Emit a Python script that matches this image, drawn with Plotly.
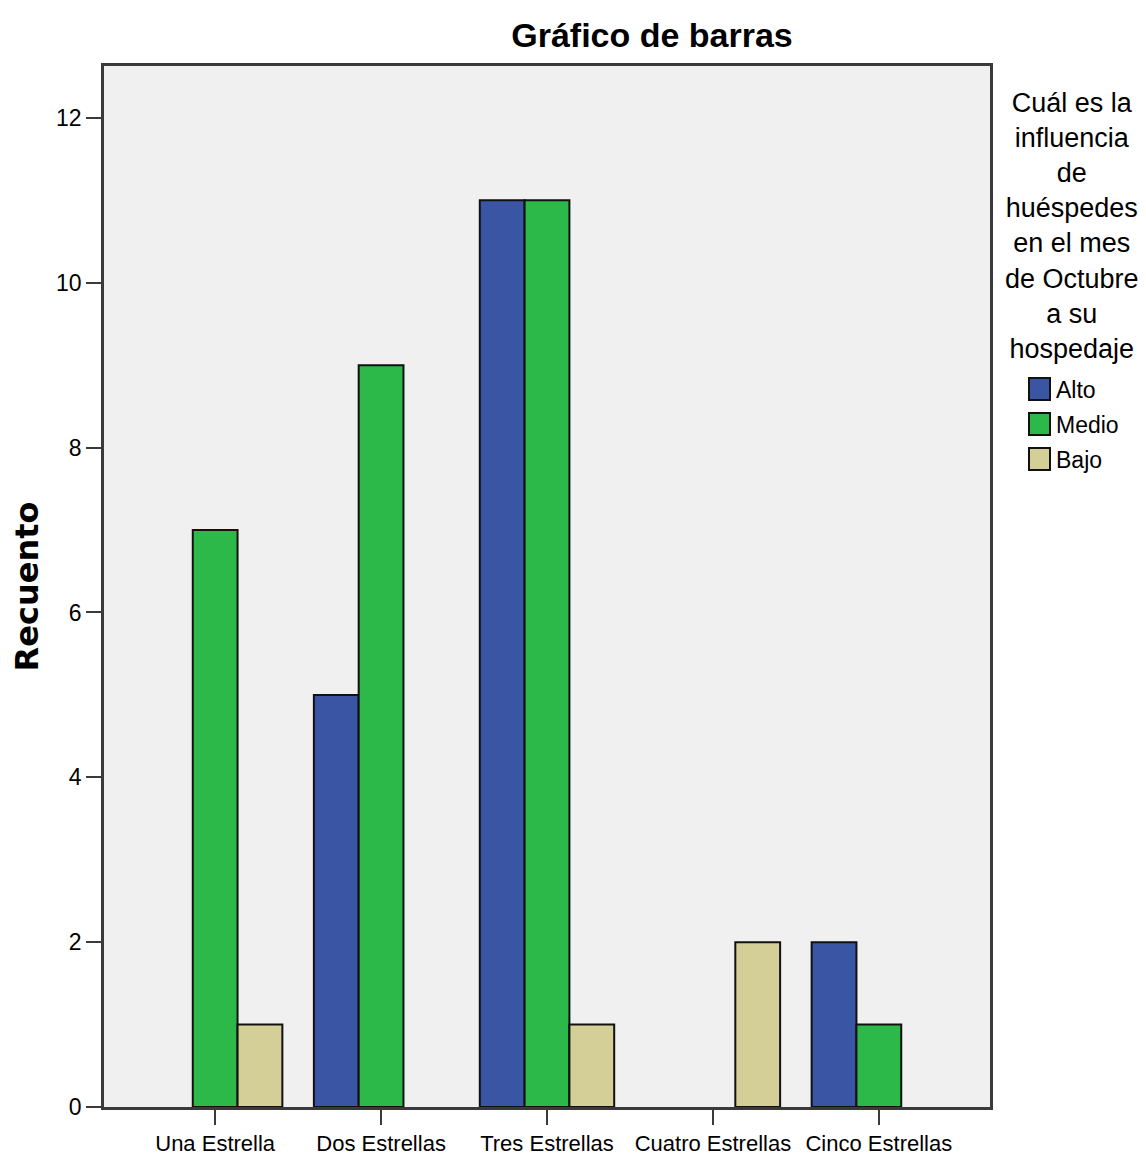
import plotly.graph_objects as go

categories = ["Una Estrella", "Dos Estrellas", "Tres Estrellas", "Cuatro Estrellas", "Cinco Estrellas"]
series_names = ["Alto", "Medio", "Bajo"]
alto = [None, 5, 11, None, 2]
medio = [7, 9, 11, None, 1]
bajo = [1, None, 1, 2, None]
y_ticks = [0, 2, 4, 6, 8, 10, 12]
legend_title = "Cuál es la<br>influencia<br>de<br>huéspedes<br>en el mes<br>de Octubre<br>a su<br>hospedaje"

colors = ["#3b55a5", "#2db84a", "#d4cf97"]
FONT = "Liberation Sans, Arial, sans-serif"

# page body has an 8px margin; work in figure pixels = screen pixels - 8
OFF = 8
W, H = 1146 - OFF, 1158 - OFF
L, R, T, B = 104 - OFF, 990 - OFF, 66 - OFF, 1107 - OFF


def px_x(px):
    return (px - OFF - L) / (R - L)


def px_y(py):
    return (B - (py - OFF)) / (B - T)


fig = go.Figure()
for name, vals, color in zip(series_names, [alto, medio, bajo], colors):
    fig.add_trace(go.Bar(x=categories, y=vals, name=name, showlegend=False,
                         marker=dict(color=color, line=dict(color="#111111", width=2))))

shapes = []
annotations = []
row_tops = [378, 413, 448]
for name, color, top in zip(series_names, colors, row_tops):
    shapes.append(dict(type="rect", xref="paper", yref="paper",
                       x0=px_x(1029), x1=px_x(1050), y0=px_y(top + 22), y1=px_y(top),
                       fillcolor=color, line=dict(color="#111111", width=2)))
    annotations.append(dict(text=name, xref="paper", yref="paper", x=px_x(1054), y=px_y(top + 12),
                            xanchor="left", yanchor="middle", showarrow=False,
                            font=dict(family=FONT, size=23, color="black")))

annotations.append(dict(text=legend_title, x=px_x(1072), y=px_y(86), xref="paper", yref="paper",
                        xanchor="center", yanchor="top", showarrow=False, align="center",
                        font=dict(family=FONT, size=27, color="black")))

fig.update_layout(
    width=W, height=H,
    margin=dict(l=L, r=W - R, t=T, b=H - B, autoexpand=False),
    paper_bgcolor="white", plot_bgcolor="#f0f0f0",
    barmode="group", bargap=0.19, bargroupgap=0,
    showlegend=False,
    font=dict(family=FONT, size=23, color="black"),
    title=dict(text="<b>Gráfico de barras</b>", xref="container", yref="container",
               x=(652 - OFF) / W, xanchor="center", y=1 - (35 - OFF) / H, yanchor="middle",
               font=dict(family=FONT, size=34, color="black")),
    xaxis=dict(range=[-0.67, 4.67], showline=True, linecolor="#3a3a3a", linewidth=2.5, mirror=True,
               ticks="outside", ticklen=15, tickwidth=2, tickcolor="#3a3a3a",
               tickfont=dict(family=FONT, size=22), showgrid=False, zeroline=False),
    yaxis=dict(range=[0, 12.63], tickvals=y_ticks, showline=True, linecolor="#3a3a3a", linewidth=2.5, mirror=True,
               ticks="outside", ticklen=15, tickwidth=2, tickcolor="#3a3a3a",
               tickfont=dict(family=FONT, size=23), showgrid=False, zeroline=False,
               title=dict(text="<b>Recuento</b>", font=dict(family="DejaVu Sans, sans-serif", size=32),
                          standoff=22)),
    shapes=shapes,
    annotations=annotations,
)

fig.write_html("out.html")
